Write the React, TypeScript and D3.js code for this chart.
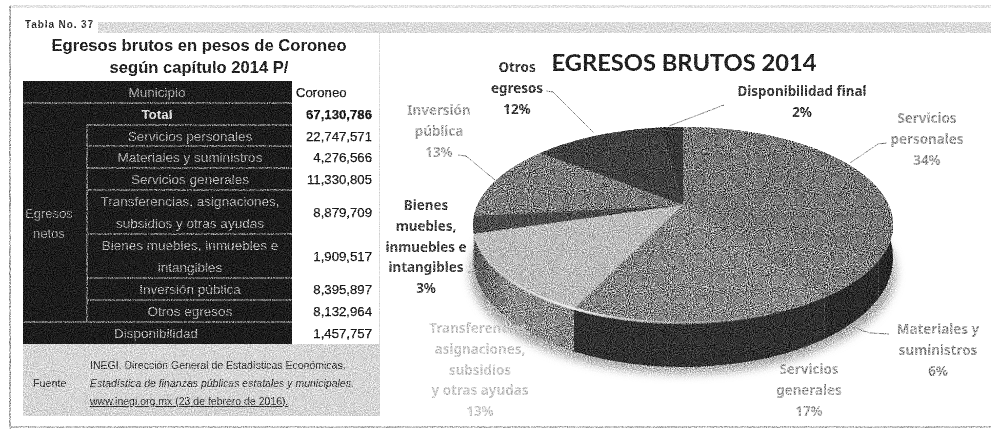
import React from "react";
import * as d3 from "d3";

const sliceNames = ["Servicios personales","Materiales y suministros","Servicios generales","Transferencias","Bienes muebles","Inversión pública","Otros egresos","Disponibilidad final"];
const sliceValues = [22747571,4276566,11330805,8879709,1909517,8395897,8132964,1457757];
const sliceFill = ["#777","#7c7c7c","#858585","#bcbcbc","#4b4b4b","#7b7b7b","#404040","#383838"];
const sideFill = ["#262626","#2a2a2a","#303030","url(#sideLeft)","#777","#888","#555","#444"];

const tableRows = [
  {lines:["Municipio"],value:"Coroneo",span:true},
  {lines:["Total"],value:"67,130,786",span:true,bold:true},
  {lines:["Servicios personales"],value:"22,747,571"},
  {lines:["Materiales y  suministros"],value:"4,276,566"},
  {lines:["Servicios generales"],value:"11,330,805"},
  {lines:["Transferencias, asignaciones,","subsidios  y otras ayudas"],value:"8,879,709"},
  {lines:["Bienes muebles, inmuebles e","intangibles"],value:"1,909,517"},
  {lines:["Inversión pública"],value:"8,395,897"},
  {lines:["Otros egresos"],value:"8,132,964"},
  {lines:["Disponibilidad"],value:"1,457,757",span:true,left:true},
];
const rowEdges = [81,103,125,146,168,190,234,278,300,322,344];
const labels = [
  {lines:["Otros","egresos","12%"],x:517,y:67,c:"#3d3d3d"},
  {lines:["Disponibilidad final","2%"],x:802,y:91,c:"#3d3d3d"},
  {lines:["Servicios","personales","34%"],x:927,y:118,c:"#999"},
  {lines:["Inversión","pública","13%"],x:439,y:110,c:"#a5a5a5"},
  {lines:["Bienes","muebles,","inmuebles e","intangibles","3%"],x:426,y:205,c:"#444"},
  {lines:["Transferencias,","asignaciones,","subsidios","y otras ayudas","13%"],x:480,y:328,c:"#c8c8c8"},
  {lines:["Materiales y","suministros","6%"],x:938,y:329,c:"#999"},
  {lines:["Servicios","generales","17%"],x:809,y:369,c:"#a5a5a5"},
];
const leaders = [
  [[546,91],[553,92],[594,133]],[[458,155],[466,156],[495,180]],[[724,105],[669,126]],
  [[887,143],[878,144],[850,163]],[[889,334],[870,333],[851,327]],[[468,272],[478,272]],
];
const footer = ["INEGI. Dirección General de Estadísticas Económicas.","Estadística de finanzas públicas estatales y municipales.","www.inegi.org.mx (23 de febrero de 2016)."];

const cx=683, cy=205, A=205.6, B=93.9, k=0.204;
const project=(t:number,drop=0):[number,number]=>{
  const u=Math.sin(t), v=-Math.cos(t), w=1-k*v;
  const d=drop?30+14*v:0;
  return [cx+A*u/w, cy+B*v/w+d];
};
const line=d3.line<[number,number]>();
const arcs=d3.pie<number>().sort(null)(sliceValues);
const samples=(a:number,b:number)=>[...d3.range(a,b,0.01),b];
const rim=(a:number,b:number,drop=0)=>samples(a,b).map(t=>project(t,drop));
const sans="'Liberation Sans',Arial,sans-serif";

export default function App(){
  return (
    <svg width={991} height={429} style={{position:"absolute",left:0,top:0}}>
      <defs>
        <linearGradient id="sideLeft" gradientUnits="userSpaceOnUse" x1={475} x2={580} y1={0} y2={0}>
          <stop offset="0" stopColor="#5a5a5a"/><stop offset="0.35" stopColor="#8e8e8e"/><stop offset="1" stopColor="#858585"/>
        </linearGradient>
        <linearGradient id="bevel" gradientUnits="userSpaceOnUse" x1={480} x2={800} y1={0} y2={0}>
          <stop offset="0" stopColor="#fff" stopOpacity="0.2"/><stop offset="0.3" stopColor="#fff" stopOpacity="0.85"/>
          <stop offset="0.6" stopColor="#fff" stopOpacity="0.35"/><stop offset="1" stopColor="#fff" stopOpacity="0"/>
        </linearGradient>
        <filter id="soft" x="-20%" y="-20%" width="140%" height="140%"><feGaussianBlur stdDeviation="4"/></filter>
        <filter id="grain" x="0" y="0" width="100%" height="100%" colorInterpolationFilters="sRGB">
          <feGaussianBlur in="SourceGraphic" stdDeviation="0.6" result="b"/>
          <feTurbulence type="fractalNoise" baseFrequency="0.95" numOctaves="2" seed="4"/>
          <feColorMatrix values="1.7 0 0 0 -0.35  1.7 0 0 0 -0.35  1.7 0 0 0 -0.35  0 0 0 0 1" result="n"/>
          <feBlend in="n" in2="b" mode="overlay"/>
        </filter>
      </defs>
      <g filter="url(#grain)">
        <rect width={991} height={429} fill="#fff"/>
        <rect x={98} y={22} width={893} height={11} fill="#dcdcdc"/>
        <rect x={10} y={5} width={981} height={3} fill="#e6e6e6"/>
        <rect x={9} y={6} width={2} height={423} fill="#b5b5b5"/>
        <rect x={10} y={426} width={981} height={2} fill="#c4c4c4"/>
        <rect x={379} y={33} width={1} height={383} fill="#ddd"/>
        <text x={25} y={28} fontFamily={sans} fontWeight={700} fontSize={10} letterSpacing={0.9} fill="#333">Tabla No. 37</text>
        <text x={199} y={51} textAnchor="middle" fontFamily={sans} fontWeight={700} fontSize={16.6} fill="#222">Egresos brutos en pesos de Coroneo</text>
        <text x={199} y={73} textAnchor="middle" fontFamily={sans} fontWeight={700} fontSize={16.6} fill="#222">según capítulo 2014 P/</text>
        <rect x={23} y={81} width={269} height={263} fill="#1c1c1c"/>
        {tableRows.map((r,i)=>{
          const y0=rowEdges[i], y1=rowEdges[i+1], mid=(y0+y1)/2;
          const tx=r.span?157:190;
          return <g key={i}>
            {i>0&&<line x1={r.span||i===rowEdges.length-2?23:87} x2={292} y1={y0} y2={y0} stroke="#aaa" strokeWidth={1}/>}
            {r.lines.map((l,j)=><text key={j} x={r.left?156:tx} y={mid+5+(j-(r.lines.length-1)/2)*21.5} textAnchor="middle" fontFamily={sans} fontSize={13.5} fontWeight={r.bold?700:400} fill={r.bold?"#ddd":"#a8a8a8"}>{l}</text>)}
            <text x={i===0?296:372} y={mid+5} textAnchor={i===0?"start":"end"} fontFamily={sans} fontSize={13.2} fontWeight={r.bold?700:400} fill="#1a1a1a" stroke="#1a1a1a" strokeWidth={0.25}>{r.value}</text>
          </g>;
        })}
        <line x1={87} x2={87} y1={125} y2={322} stroke="#aaa"/>
        <text x={25} y={218} fontFamily={sans} fontSize={13} fill="#999">Egresos</text>
        <text x={33} y={238} fontFamily={sans} fontSize={13} fill="#999">netos</text>
        <rect x={23} y={344} width={357} height={72} fill="#d6d6d6"/>
        <text x={33} y={387} fontFamily={sans} fontSize={10.8} fill="#333">Fuente</text>
        {footer.map((f,i)=><text key={i} x={90} y={369+i*18} fontFamily={sans} fontSize={10.5} fontStyle={i===1?"italic":"normal"} textDecoration={i===2?"underline":"none"} fill="#333">{f}</text>)}
        <text x={684} y={71} textAnchor="middle" fontFamily="Lato,sans-serif" fontWeight={700} fontSize={23.7} fill="#222">EGRESOS BRUTOS 2014</text>
        <ellipse cx={683} cy={272} rx={213} ry={102} fill="#aaa" filter="url(#soft)"/>
        {arcs.map((a,i)=><path key={i} d={line([...rim(a.startAngle,a.endAngle),...rim(a.startAngle,a.endAngle,1).reverse()])+"Z"} fill={sideFill[i]}/>)}
        {arcs.map((a,i)=><path key={i} d={line([[cx,cy],...rim(a.startAngle,a.endAngle)])+"Z"} fill={sliceFill[i]}/>)}
        <path d={line(rim(arcs[1].startAngle+0.6,arcs[4].startAngle))!} fill="none" stroke="url(#bevel)" strokeWidth={2.5}/>
        {leaders.map((l,i)=><path key={i} d={line(l as [number,number][])!} fill="none" stroke="#999" strokeWidth={1}/>)}
        {labels.map((l,i)=>l.lines.map((t,j)=><text key={i+"-"+j} x={l.x} y={l.y+5+j*20.8} textAnchor="middle" fontFamily="'Noto Sans',sans-serif" fontWeight={700} fontSize={13.4} fill={l.c}>{t}</text>))}
      </g>
    </svg>
  );
}
